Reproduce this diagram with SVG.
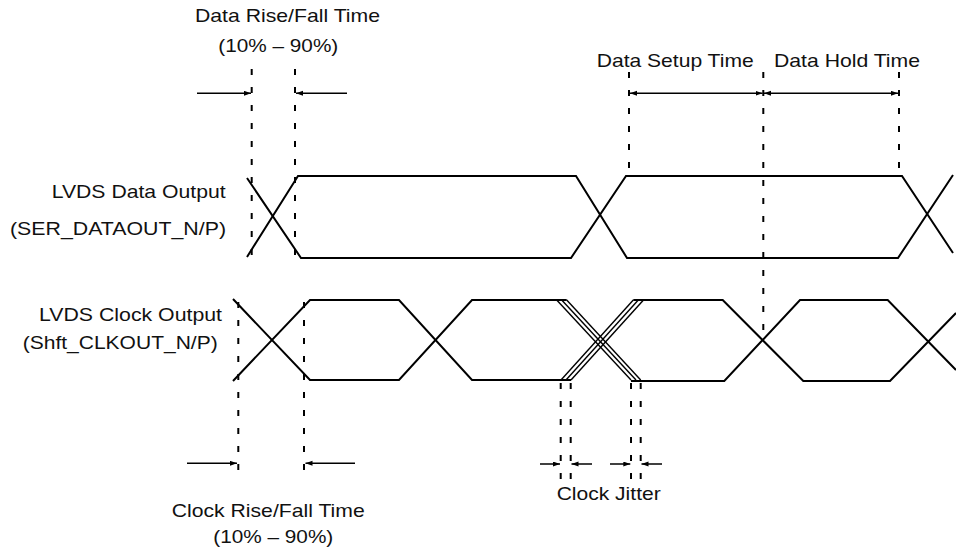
<svg xmlns="http://www.w3.org/2000/svg" width="956" height="552" viewBox="0 0 956 552">
  <style>
    .t { font-family: "Liberation Sans", Arial, sans-serif; font-size: 18.5px; fill: #111; }
    .w { fill: none; stroke: #000; stroke-width: 2; stroke-linejoin: miter; }
    .j { fill: none; stroke: #000; stroke-width: 1.4; }
    .d { fill: none; stroke: #000; stroke-width: 2; stroke-dasharray: 6 12; }
    .a { fill: none; stroke: #000; stroke-width: 1.5; }
  </style>
  <defs>
    <marker id="ah" markerUnits="userSpaceOnUse" markerWidth="8" markerHeight="6" refX="7" refY="2.5" orient="auto-start-reverse">
      <path d="M0,0 L7,2.5 L0,5 z" fill="#000"/>
    </marker>
  </defs>
  <rect width="956" height="552" fill="#fff"/>

  <g id="data-signal">
    <polyline class="w" points="247,257 298,176 576,176 627,258 898,258 953,175"/>
    <polyline class="w" points="247,178 301,258 571,258 626,176 902,176 953,253"/>
  </g>

  <g id="clock-signal">
    <polyline class="w" points="233,299 310,380 399,380 472,300 566.7,300"/>
    <polyline class="w" points="233,381 310,300 399,300 472,380 571,380"/>
    <line class="j" x1="556.7" y1="300" x2="631" y2="380"/>
    <line class="j" x1="561.7" y1="300" x2="636" y2="380"/>
    <line class="j" x1="566.7" y1="300" x2="640.7" y2="380"/>
    <line class="j" x1="561" y1="380" x2="633.3" y2="300"/>
    <line class="j" x1="566" y1="380" x2="638.3" y2="300"/>
    <line class="j" x1="571" y1="380" x2="643.5" y2="300"/>
    <polyline class="w" points="633.3,300 722.7,300 803.3,381 890,381 956,313"/>
    <polyline class="w" points="631,381 724.3,381 800,300 887.7,300 956,370"/>
  </g>

  <g id="labels">
    <text class="t" x="195" y="21.7" textLength="185" lengthAdjust="spacingAndGlyphs">Data Rise/Fall Time</text>
    <text class="t" x="218.3" y="51.5" textLength="120" lengthAdjust="spacingAndGlyphs">(10% – 90%)</text>
    <text class="t" x="596.7" y="66.7" textLength="157" lengthAdjust="spacingAndGlyphs">Data Setup Time</text>
    <text class="t" x="774" y="66.7" textLength="146" lengthAdjust="spacingAndGlyphs">Data Hold Time</text>
    <text class="t" x="51.7" y="198.3" textLength="174" lengthAdjust="spacingAndGlyphs">LVDS Data Output</text>
    <text class="t" x="10" y="235" textLength="216" lengthAdjust="spacingAndGlyphs">(SER_DATAOUT_N/P)</text>
    <text class="t" x="39" y="320.7" textLength="183" lengthAdjust="spacingAndGlyphs">LVDS Clock Output</text>
    <text class="t" x="22.7" y="348.5" textLength="195" lengthAdjust="spacingAndGlyphs">(Shft_CLKOUT_N/P)</text>
    <text class="t" x="171.7" y="516.7" textLength="193" lengthAdjust="spacingAndGlyphs">Clock Rise/Fall Time</text>
    <text class="t" x="213.3" y="543" textLength="120" lengthAdjust="spacingAndGlyphs">(10% – 90%)</text>
    <text class="t" x="556.7" y="500" textLength="104" lengthAdjust="spacingAndGlyphs">Clock Jitter</text>
  </g>

  <g id="connectors">
    <line class="d" x1="251.7" y1="69" x2="251.7" y2="258"/>
    <line class="d" x1="295" y1="69" x2="295" y2="258"/>
    <line class="d" x1="629" y1="72" x2="629" y2="176"/>
    <line class="d" x1="763.3" y1="72" x2="763.3" y2="340"/>
    <line class="d" x1="899" y1="72" x2="899" y2="176"/>
    <line class="d" x1="238.3" y1="302" x2="238.3" y2="482"/>
    <line class="d" x1="304" y1="302" x2="304" y2="482"/>
    <line class="d" x1="560.7" y1="383" x2="560.7" y2="486"/>
    <line class="d" x1="570.7" y1="383" x2="570.7" y2="486"/>
    <line class="d" x1="631" y1="383" x2="631" y2="486"/>
    <line class="d" x1="640.7" y1="383" x2="640.7" y2="486"/>
    <line class="a" x1="197" y1="93.3" x2="251" y2="93.3" marker-end="url(#ah)"/>
    <line class="a" x1="347" y1="93.3" x2="296" y2="93.3" marker-end="url(#ah)"/>
    <line class="a" x1="630" y1="93.3" x2="762.5" y2="93.3" marker-start="url(#ah)" marker-end="url(#ah)"/>
    <line class="a" x1="764" y1="93.3" x2="898" y2="93.3" marker-start="url(#ah)" marker-end="url(#ah)"/>
    <line class="a" x1="187" y1="463.3" x2="237" y2="463.3" marker-end="url(#ah)"/>
    <line class="a" x1="355" y1="463.3" x2="305.5" y2="463.3" marker-end="url(#ah)"/>
    <line class="a" x1="540" y1="464" x2="560" y2="464" marker-end="url(#ah)"/>
    <line class="a" x1="592" y1="464" x2="571.5" y2="464" marker-end="url(#ah)"/>
    <line class="a" x1="610" y1="464" x2="630.3" y2="464" marker-end="url(#ah)"/>
    <line class="a" x1="662" y1="464" x2="641.5" y2="464" marker-end="url(#ah)"/>
  </g>
</svg>
